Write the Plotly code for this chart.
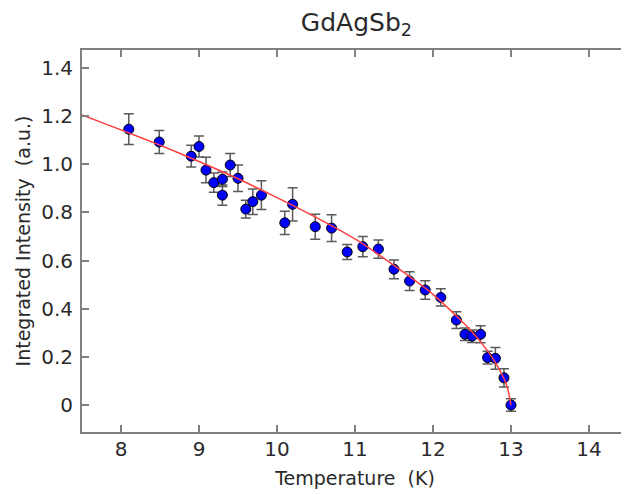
import plotly.graph_objects as go

# Measured points
temperature = [8.10, 8.49, 8.90, 9.00, 9.09, 9.19, 9.30, 9.30, 9.40, 9.50, 9.60, 9.69, 9.80,
               10.10, 10.20, 10.49, 10.70, 10.90, 11.10, 11.30, 11.50, 11.70, 11.90, 12.10,
               12.30, 12.41, 12.50, 12.61, 12.70, 12.80, 12.91, 13.00]
intensity = [1.146, 1.093, 1.034, 1.074, 0.976, 0.924, 0.938, 0.872, 0.997, 0.942, 0.814, 0.845, 0.872,
             0.757, 0.834, 0.741, 0.735, 0.636, 0.658, 0.648, 0.564, 0.515, 0.478, 0.447,
             0.353, 0.294, 0.286, 0.294, 0.197, 0.194, 0.113, 0.000]
error = [0.064, 0.048, 0.045, 0.044, 0.053, 0.040, 0.030, 0.042, 0.048, 0.055, 0.037, 0.053, 0.060,
         0.048, 0.069, 0.052, 0.056, 0.031, 0.042, 0.038, 0.039, 0.039, 0.038, 0.036,
         0.035, 0.026, 0.026, 0.035, 0.026, 0.045, 0.038, 0.026]

# Fit curve
fit_t = [7.5, 8.0, 8.5, 9.0, 9.5, 10.0, 10.5, 11.0, 11.5, 12.0, 12.3, 12.5, 12.7, 12.83, 12.91, 12.96, 13.0]
fit_i = [1.205, 1.143, 1.080, 1.012, 0.940, 0.862, 0.780, 0.690, 0.580, 0.460, 0.370, 0.305, 0.225, 0.160, 0.110, 0.065, 0.0]

x_ticks = [8, 9, 10, 11, 12, 13, 14]
y_ticks = [0, 0.2, 0.4, 0.6, 0.8, 1.0, 1.2, 1.4]
y_tick_text = ["0", "0.2", "0.4", "0.6", "0.8", "1.0", "1.2", "1.4"]

FONT = "DejaVu Sans"
AXIS_COLOR = "#808080"
TEXT_COLOR = "#2a2a2a"

fig = go.Figure()
fig.add_trace(go.Scatter(
    x=temperature, y=intensity, mode="markers",
    error_y=dict(type="data", array=error, color="#5a5a5a", thickness=1.5, width=5),
    marker=dict(color="#0000ff", size=10, line=dict(color="#000000", width=1)),
    showlegend=False,
))
fig.add_trace(go.Scatter(
    x=fit_t, y=fit_i, mode="lines",
    line=dict(color="#ff4040", width=1.5, shape="spline", smoothing=0.6),
    showlegend=False,
))

fig.update_layout(
    width=621, height=487,
    margin=dict(l=74, r=1, t=42, b=63),
    paper_bgcolor="white", plot_bgcolor="white",
    font=dict(family=FONT, color=TEXT_COLOR, size=18),
    title=dict(text="GdAgSb<sub>2</sub>", xref="container", x=0.561, xanchor="center",
               yref="container", y=0.971, yanchor="middle",
               font=dict(family=FONT, size=25, color=TEXT_COLOR)),
    xaxis=dict(
        range=[7.5, 14.5], tickvals=x_ticks, ticks="inside", ticklen=7, tickwidth=1.5,
        tickcolor=AXIS_COLOR, showline=True, linecolor=AXIS_COLOR, linewidth=2, mirror="ticks",
        showgrid=False, zeroline=False, automargin=False, ticklabelstandoff=-2,
        title=dict(text="Temperature  (K)", standoff=12, font=dict(size=19)),
        tickfont=dict(size=20),
    ),
    yaxis=dict(
        range=[-0.112, 1.475], tickvals=y_ticks, ticktext=y_tick_text, ticks="inside", ticklen=7,
        tickwidth=1.5, tickcolor=AXIS_COLOR, showline=True, linecolor=AXIS_COLOR, linewidth=2,
        mirror="ticks", showgrid=False, zeroline=False, automargin=False, ticklabelstandoff=3,
        title=dict(text="Integrated Intensity  (a.u.)", standoff=6, font=dict(size=19)),
        tickfont=dict(size=20),
    ),
)

fig.write_html("out.html")
